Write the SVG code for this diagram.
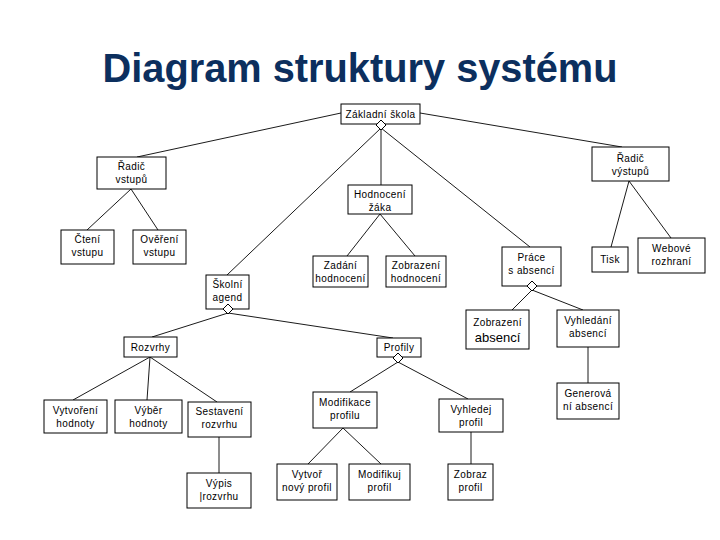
<svg xmlns="http://www.w3.org/2000/svg" width="720" height="540" viewBox="0 0 720 540">
<style>
.b{fill:#fff;stroke:#000;stroke-width:1}
.t{font-family:"Liberation Sans",Arial,sans-serif;font-size:10px;fill:#000;text-anchor:middle;letter-spacing:0.4px}
.c line{stroke:#000;stroke-width:0.9}
.d{fill:#fff;stroke:#000;stroke-width:1}
</style>
<rect width="720" height="540" fill="#fff"/>
<text x="360" y="82" font-family="'Liberation Sans',Arial,sans-serif" font-size="40" font-weight="bold" fill="#0c2f5e" text-anchor="middle" textLength="515" lengthAdjust="spacingAndGlyphs">Diagram struktury systému</text>
<g class="c" id="connectors">
<line x1="341" y1="113" x2="137" y2="157"/>
<line x1="420" y1="113" x2="622" y2="147"/>
<line x1="381" y1="130" x2="381" y2="185"/>
<line x1="381" y1="128" x2="227" y2="275"/>
<line x1="381" y1="128" x2="530" y2="247"/>
<line x1="131" y1="189" x2="87" y2="230"/>
<line x1="131" y1="189" x2="158" y2="230"/>
<line x1="629" y1="181" x2="611" y2="247"/>
<line x1="629" y1="181" x2="671" y2="238"/>
<line x1="380" y1="214" x2="347" y2="256"/>
<line x1="380" y1="214" x2="415" y2="256"/>
<line x1="532" y1="290" x2="512" y2="310"/>
<line x1="532" y1="290" x2="583" y2="310"/>
<line x1="588" y1="347" x2="588" y2="383"/>
<line x1="228" y1="313" x2="152" y2="337"/>
<line x1="228" y1="313" x2="393" y2="338"/>
<line x1="150" y1="357" x2="73" y2="400"/>
<line x1="150" y1="357" x2="147" y2="400"/>
<line x1="150" y1="357" x2="217" y2="402"/>
<line x1="219" y1="437" x2="219" y2="473"/>
<line x1="398" y1="362" x2="350" y2="392"/>
<line x1="398" y1="362" x2="468" y2="399"/>
<line x1="343" y1="428" x2="308" y2="464"/>
<line x1="343" y1="428" x2="381" y2="464"/>
<line x1="471" y1="432" x2="471" y2="464"/>
</g>
<g id="zakladni"><rect class="b" x="341" y="104" width="79" height="20"/><text class="t" x="380.5" y="118">Základní škola</text><path class="d" d="M381,120 L386,125 L381,130 L376,125 Z"/></g>
<g id="radic-vstupu"><rect class="b" x="97" y="157" width="69" height="32"/><text class="t" x="131.5" y="170">Řadič</text><text class="t" x="131.5" y="183">vstupů</text></g>
<g id="radic-vystupu"><rect class="b" x="592" y="147" width="77" height="34"/><text class="t" x="630.5" y="162">Řadič</text><text class="t" x="630.5" y="175">výstupů</text></g>
<g id="hodnoceni"><rect class="b" x="348" y="185" width="64" height="29"/><text class="t" x="380" y="198">Hodnocení</text><text class="t" x="380" y="211">žáka</text></g>
<g id="cteni"><rect class="b" x="61" y="230" width="53" height="34"/><text class="t" x="87.5" y="243">Čtení</text><text class="t" x="87.5" y="256">vstupu</text></g>
<g id="overeni"><rect class="b" x="133" y="230" width="53" height="34"/><text class="t" x="159.5" y="243">Ověření</text><text class="t" x="159.5" y="256">vstupu</text></g>
<g id="zadani"><rect class="b" x="313" y="256" width="55" height="31"/><text class="t" x="340.5" y="269">Zadání</text><text class="t" x="340.5" y="282">hodnocení</text></g>
<g id="zobrazeni-hodn"><rect class="b" x="386" y="256" width="60" height="31"/><text class="t" x="416" y="269">Zobrazení</text><text class="t" x="416" y="282">hodnocení</text></g>
<g id="prace"><rect class="b" x="502" y="247" width="59" height="39"/><text class="t" x="531.5" y="261">Práce</text><text class="t" x="531.5" y="274">s absencí</text><path class="d" d="M532,281 L537,286 L532,291 L527,286 Z"/></g>
<g id="tisk"><rect class="b" x="592" y="247" width="36" height="25"/><text class="t" x="610" y="263">Tisk</text></g>
<g id="webove"><rect class="b" x="638" y="238" width="67" height="35"/><text class="t" x="671.5" y="252">Webové</text><text class="t" x="671.5" y="265">rozhraní</text></g>
<g id="skolni"><rect class="b" x="206" y="275" width="43" height="34"/><text class="t" x="227.5" y="288">Školní</text><text class="t" x="227.5" y="301">agend</text><path class="d" d="M228,304 L233,309 L228,314 L223,309 Z"/></g>
<g id="zobrazeni-abs"><rect class="b" x="466" y="310" width="63" height="39"/><text class="t" x="497.5" y="326">Zobrazení</text><text class="t" x="497.5" y="342" style="font-size:13px;letter-spacing:0">absencí</text></g>
<g id="vyhledani"><rect class="b" x="557" y="310" width="62" height="37"/><text class="t" x="588" y="324">Vyhledání</text><text class="t" x="588" y="337">absencí</text></g>
<g id="generovani"><rect class="b" x="557" y="383" width="62" height="36"/><text class="t" x="588" y="397">Generová</text><text class="t" x="588" y="410">ní absencí</text></g>
<g id="rozvrhy"><rect class="b" x="124" y="337" width="53" height="20"/><text class="t" x="150.5" y="351">Rozvrhy</text></g>
<g id="profily"><rect class="b" x="377" y="338" width="44" height="19"/><text class="t" x="399" y="351">Profily</text><path class="d" d="M398,353 L403,358 L398,363 L393,358 Z"/></g>
<g id="vytvoreni"><rect class="b" x="44" y="400" width="63" height="33"/><text class="t" x="75.5" y="414">Vytvoření</text><text class="t" x="75.5" y="427">hodnoty</text></g>
<g id="vyber"><rect class="b" x="115" y="400" width="67" height="33"/><text class="t" x="148.5" y="414">Výběr</text><text class="t" x="148.5" y="427">hodnoty</text></g>
<g id="sestaveni"><rect class="b" x="188" y="402" width="63" height="35"/><text class="t" x="219.5" y="415">Sestavení</text><text class="t" x="219.5" y="428">rozvrhu</text></g>
<g id="vypis"><rect class="b" x="187" y="473" width="64" height="35"/><text class="t" x="219" y="487">Výpis</text><text class="t" x="219" y="500">|rozvrhu</text></g>
<g id="modifikace"><rect class="b" x="313" y="392" width="64" height="36"/><text class="t" x="345" y="406">Modifikace</text><text class="t" x="345" y="419">profilu</text></g>
<g id="vyhledej"><rect class="b" x="439" y="399" width="64" height="33"/><text class="t" x="471" y="413">Vyhledej</text><text class="t" x="471" y="426">profil</text></g>
<g id="vytvor"><rect class="b" x="277" y="464" width="60" height="36"/><text class="t" x="307" y="478">Vytvoř</text><text class="t" x="307" y="491">nový profil</text></g>
<g id="modifikuj"><rect class="b" x="349" y="464" width="61" height="36"/><text class="t" x="379.5" y="478">Modifikuj</text><text class="t" x="379.5" y="491">profil</text></g>
<g id="zobraz"><rect class="b" x="448" y="464" width="45" height="36"/><text class="t" x="470.5" y="478">Zobraz</text><text class="t" x="470.5" y="491">profil</text></g>
</svg>
